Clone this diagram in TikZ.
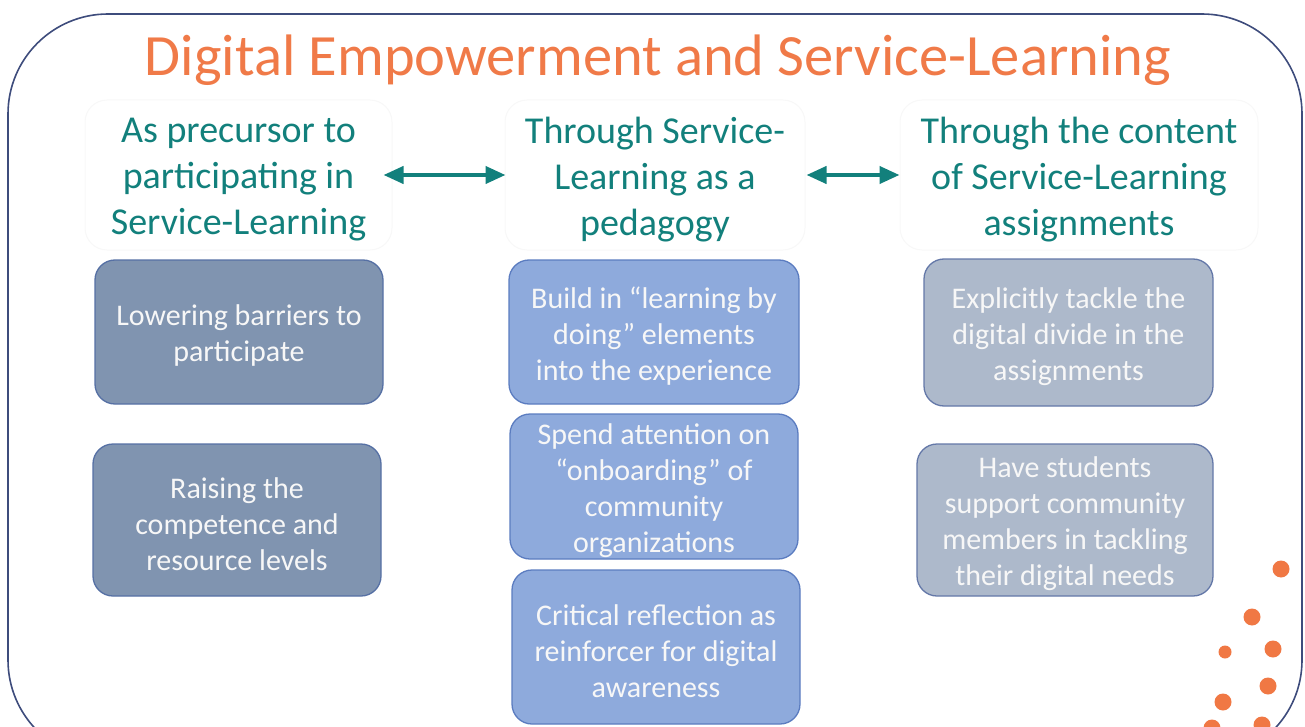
\documentclass[tikz,border=0pt]{standalone}
\usepackage{fontspec}
\setmainfont{Carlito}
\usetikzlibrary{arrows.meta}
\definecolor{frameblue}{HTML}{3E4C7C}
\definecolor{titleorange}{HTML}{F07A48}
\definecolor{tealtext}{HTML}{12807C}
\definecolor{slatefill}{HTML}{8094B0}
\definecolor{slateedge}{HTML}{5670A4}
\definecolor{bluefill}{HTML}{8EAADC}
\definecolor{blueedge}{HTML}{5B7CC0}
\definecolor{greyfill}{HTML}{ADB9CB}
\definecolor{greyedge}{HTML}{6478A8}
\definecolor{dotorange}{HTML}{F07844}
\definecolor{faint}{HTML}{F8F8F8}
\tikzset{
  headbox/.style={draw=faint, line width=1pt, rounded corners=22pt, fill=white, inner sep=0pt},
  headtext/.style={align=center, text=tealtext, font=\fontsize{38}{46}\selectfont, inner sep=0pt, yshift=-5pt},
  itembox/.style={rounded corners=20pt, line width=1.3pt, inner sep=0pt},
  itemtext/.style={align=center, inner sep=0pt, text=white!97!black, font=\fontsize{30}{36}\selectfont, yshift=-4pt},
  colone/.style={itembox, fill=slatefill, draw=slateedge},
  coltwo/.style={itembox, fill=bluefill, draw=blueedge},
  colthree/.style={itembox, fill=greyfill, draw=greyedge},
  linkarrow/.style={{Triangle[length=20pt,width=17pt]}-{Triangle[length=20pt,width=17pt]}, line width=4pt, draw=tealtext},
  dot/.style={circle, fill=dotorange, inner sep=0pt}
}
\begin{document}
\begin{tikzpicture}[x=1pt,y=-1pt]
\useasboundingbox (0,0) rectangle (1305,727);
\begin{scope}
\clip (0,0) rectangle (1305,727);
\draw[frameblue, line width=1.6pt, rounded corners=100pt] (8,14) rectangle (1302,760);
% dots
\node[dot, minimum size=17pt] (d1) at (1281,569) {};
\node[dot, minimum size=17pt] (d2) at (1252,617) {};
\node[dot, minimum size=13pt] (d3) at (1225,652) {};
\node[dot, minimum size=17pt] (d4) at (1273,649) {};
\node[dot, minimum size=17pt] (d5) at (1268,686) {};
\node[dot, minimum size=17pt] (d6) at (1223,702) {};
\node[dot, minimum size=17pt] (d7) at (1212,728) {};
\node[dot, minimum size=17pt] (d8) at (1262,725) {};
\end{scope}
% title
\node[text=titleorange, font=\fontsize{58.5}{62}\selectfont, anchor=center] (title) at (658,60) {Digital Empowerment and Service-Learning};
% headers
\node[headbox, minimum width=307pt, minimum height=150pt,
  label={[headtext]center:{As precursor to\\participating in\\Service-Learning}}] (h1) at (238.5,175) {};
\node[headbox, minimum width=300pt, minimum height=150pt,
  label={[headtext]center:{Through Service-\\Learning as a\\pedagogy}}] (h2) at (655,175) {};
\node[headbox, minimum width=358pt, minimum height=150pt,
  label={[headtext]center:{Through the content\\of Service-Learning\\assignments}}] (h3) at (1079,175) {};
\draw[linkarrow, shorten <=-9pt, shorten >=-1pt] (h1.east) -- (h2.west);
\draw[linkarrow, shorten <=1pt, shorten >=0pt] (h2.east) -- (h3.west);
% column 1
\node[colone, minimum width=288pt, minimum height=144pt,
  label={[itemtext]center:{Lowering barriers to\\participate}}] (a1) at (239,332) {};
\node[colone, minimum width=288pt, minimum height=152pt,
  label={[itemtext]center:{Raising the\\competence and\\resource levels}}] (a2) at (237,520) {};
% column 2
\node[coltwo, minimum width=290pt, minimum height=144pt,
  label={[itemtext]center:{Build in ``learning by\\doing'' elements\\into the experience}}] (b1) at (654,332) {};
\node[coltwo, minimum width=288pt, minimum height=145pt,
  label={[itemtext]center:{Spend attention on\\``onboarding'' of\\community\\organizations}}] (b2) at (654,486.5) {};
\node[coltwo, minimum width=288pt, minimum height=154pt,
  label={[itemtext]center:{Critical reflection as\\reinforcer for digital\\awareness}}] (b3) at (656,647) {};
% column 3
\node[colthree, minimum width=289pt, minimum height=147pt,
  label={[itemtext]center:{Explicitly tackle the\\digital divide in the\\assignments}}] (c1) at (1068.5,332.5) {};
\node[colthree, minimum width=296pt, minimum height=152pt,
  label={[itemtext]center:{Have students\\support community\\members in tackling\\their digital needs}}] (c2) at (1065,520) {};
\end{tikzpicture}
\end{document}
